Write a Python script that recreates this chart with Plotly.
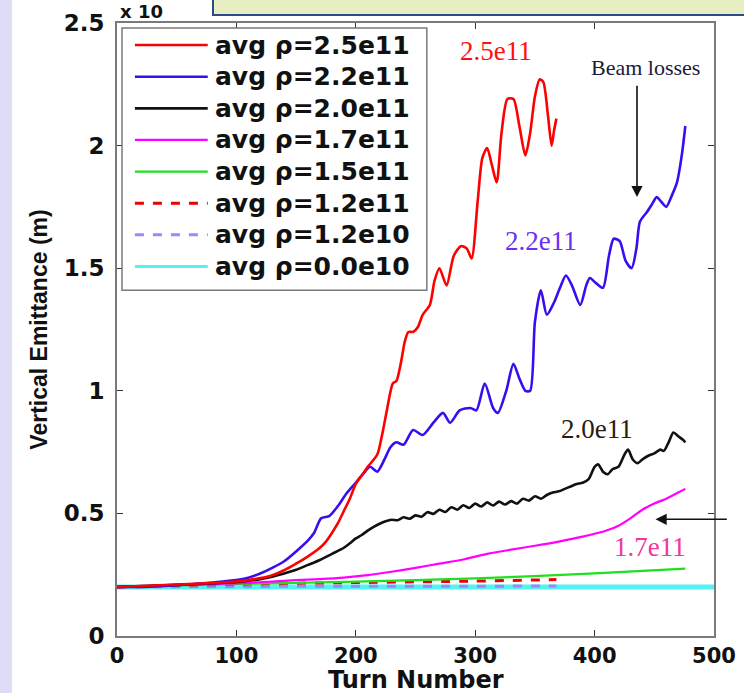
import plotly.graph_objects as go

# ---- data: vertical emittance (m, scaled) versus turn number ----
turns_25 = [0, 20, 40, 60, 80, 100, 110, 120, 130, 140, 150, 160, 170, 175, 180, 185, 190, 195,
            200, 205, 210, 218, 222, 226, 231, 234, 238, 241, 244, 248, 252, 256, 262, 266, 270,
            276, 282, 288, 293, 297, 302, 306, 310, 314, 318, 322, 327, 332, 337, 342, 346, 350,
            354, 357, 361, 364, 366, 368]
emit_25 = [0.200, 0.204, 0.208, 0.212, 0.216, 0.222, 0.228, 0.236, 0.248, 0.268, 0.295, 0.325,
           0.360, 0.385, 0.420, 0.460, 0.510, 0.560, 0.620, 0.655, 0.690, 0.740, 0.820, 0.920,
           1.030, 1.040, 1.120, 1.200, 1.240, 1.240, 1.260, 1.310, 1.350, 1.450, 1.500, 1.430,
           1.550, 1.590, 1.580, 1.540, 1.770, 1.950, 1.990, 1.920, 1.850, 2.050, 2.190, 2.190,
           2.080, 1.960, 2.050, 2.200, 2.270, 2.260, 2.120, 2.000, 2.060, 2.110]

turns_22 = [0, 20, 40, 60, 80, 100, 110, 120, 130, 140, 150, 160, 165, 171, 178, 185, 192, 199,
            206, 212, 218, 224, 229, 234, 240, 248, 256, 265, 273, 279, 287, 296, 301, 308, 315,
            319, 326, 332, 337, 342, 346, 350, 355, 360, 366, 371, 376, 381, 388, 393, 396, 401,
            407, 412, 416, 421, 426, 431, 435, 438, 444, 448, 452, 456, 460, 465, 469, 473, 476]
emit_22 = [0.200, 0.200, 0.204, 0.210, 0.218, 0.228, 0.238, 0.255, 0.278, 0.305, 0.345, 0.390,
           0.420, 0.480, 0.490, 0.530, 0.580, 0.620, 0.660, 0.690, 0.670, 0.720, 0.770, 0.790,
           0.780, 0.840, 0.820, 0.870, 0.910, 0.870, 0.920, 0.930, 0.920, 1.030, 0.930, 0.910,
           1.000, 1.110, 1.050, 1.000, 1.000, 1.280, 1.410, 1.310, 1.360, 1.420, 1.470, 1.430,
           1.350, 1.430, 1.460, 1.440, 1.420, 1.550, 1.620, 1.610, 1.530, 1.500, 1.580, 1.690,
           1.730, 1.760, 1.790, 1.770, 1.750, 1.800, 1.850, 1.960, 2.080]

turns_20 = [0, 20, 40, 60, 80, 100, 110, 120, 130, 140, 150, 160, 170, 180, 190, 195, 200, 205,
            210, 215, 220, 225, 230, 235, 240, 245, 250, 255, 260, 265, 270, 275, 280, 285, 290,
            295, 300, 305, 310, 315, 320, 325, 330, 335, 340, 345, 350, 355, 360, 365, 370, 375,
            380, 385, 390, 395, 400, 403, 407, 411, 415, 420, 425, 428, 432, 436, 440, 445, 450,
            455, 458, 462, 466, 470, 474, 476]
emit_20 = [0.200, 0.203, 0.207, 0.210, 0.215, 0.220, 0.225, 0.232, 0.242, 0.255, 0.270, 0.290,
           0.310, 0.335, 0.360, 0.378, 0.398, 0.412, 0.430, 0.445, 0.458, 0.468, 0.474, 0.472,
           0.484, 0.478, 0.492, 0.486, 0.505, 0.498, 0.515, 0.506, 0.525, 0.515, 0.533, 0.522,
           0.540, 0.528, 0.545, 0.532, 0.548, 0.536, 0.550, 0.540, 0.560, 0.552, 0.570, 0.560,
           0.575, 0.585, 0.590, 0.600, 0.610, 0.620, 0.625, 0.640, 0.690, 0.700, 0.670, 0.660,
           0.680, 0.690, 0.740, 0.760, 0.720, 0.705, 0.720, 0.735, 0.745, 0.760, 0.755, 0.790,
           0.830, 0.815, 0.800, 0.790]

turns_17 = [0, 50, 100, 130, 150, 170, 190, 210, 230, 250, 270, 290, 310, 330, 350, 370, 390,
            410, 420, 430, 440, 450, 460, 470, 476]
emit_17 = [0.200, 0.208, 0.215, 0.222, 0.228, 0.232, 0.238, 0.248, 0.262, 0.278, 0.295, 0.312,
           0.335, 0.352, 0.368, 0.385, 0.405, 0.430, 0.450, 0.480, 0.515, 0.540, 0.560, 0.585,
           0.600]

turns_15 = [0, 100, 200, 300, 400, 476]
emit_15 = [0.200, 0.212, 0.222, 0.235, 0.255, 0.275]

turns_12 = [0, 100, 200, 300, 368]
emit_12 = [0.200, 0.212, 0.218, 0.224, 0.230]

turns_12e10 = [0, 100, 200, 300, 368]
emit_12e10 = [0.200, 0.202, 0.203, 0.203, 0.204]

turns_00 = [0, 500]
emit_00 = [0.200, 0.200]

legend_labels = ["avg \u03c1=2.5e11", "avg \u03c1=2.2e11", "avg \u03c1=2.0e11", "avg \u03c1=1.7e11",
                 "avg \u03c1=1.5e11", "avg \u03c1=1.2e11", "avg \u03c1=1.2e10", "avg \u03c1=0.0e10"]

x_ticks = [0, 100, 200, 300, 400, 500]
y_ticks = [0, 0.5, 1, 1.5, 2, 2.5]

# (x, y, colour, width, dash) per series
series = [
    (turns_25, emit_25, "#ff0000", 2.6, "solid"),
    (turns_22, emit_22, "#3a0df0", 2.6, "solid"),
    (turns_20, emit_20, "#111111", 2.6, "solid"),
    (turns_17, emit_17, "#ff00ff", 2.2, "solid"),
    (turns_15, emit_15, "#1ee01e", 2.2, "solid"),
    (turns_12, emit_12, "#ee0000", 3.0, "dash"),
    (turns_12e10, emit_12e10, "#9a88ff", 3.0, "dash"),
    (turns_00, emit_00, "#55f2f2", 5.0, "solid"),
]

fig = go.Figure()

# draw the flat reference curves first so the growing ones stay on top
for xs, ys, col, w, dash in reversed(series):
    fig.add_trace(go.Scatter(x=xs, y=ys, mode="lines",
                             line=dict(color=col, width=w, dash=dash,
                                       shape="spline", smoothing=0.7),
                             showlegend=False, hoverinfo="skip"))

X_TICK_FONT = dict(family="DejaVu Sans", size=21, color="#111111", weight="bold")
Y_TICK_FONT = dict(family="DejaVu Sans", size=23, color="#111111", weight="bold")

fig.update_layout(
    width=744, height=693,
    margin=dict(l=117, r=30, t=23, b=57),
    paper_bgcolor="white", plot_bgcolor="white",
    xaxis=dict(range=[0, 500], tickvals=x_ticks, ticks="inside", ticklen=6,
               tickcolor="#333333", showline=True, mirror="ticks", linecolor="#7a7a7a",
               linewidth=2, showgrid=False, zeroline=False, tickfont=X_TICK_FONT,
               automargin=False),
    yaxis=dict(range=[0, 2.5], tickvals=y_ticks, ticks="inside", ticklen=6,
               tickcolor="#333333", showline=True, mirror="ticks", linecolor="#7a7a7a",
               linewidth=2, showgrid=False, zeroline=False, tickfont=Y_TICK_FONT,
               ticklabelstandoff=6, automargin=False,
               title=dict(text="Vertical Emittance (m)", standoff=10,
                          font=dict(family="Liberation Sans", size=23, color="#111111",
                                    weight="bold"))),
)

shapes = []
annotations = []

# x-axis title placed just under the tick labels
annotations.append(dict(text="Turn Number", xref="paper", yref="paper", x=0.5, y=-0.0710,
                        xanchor="center", yanchor="middle", showarrow=False,
                        font=dict(family="DejaVu Sans", size=24, color="#111111",
                                  weight="bold")))

# slide strip on the left and caption box along the top edge
shapes.append(dict(type="rect", xref="paper", yref="paper", x0=-0.25, x1=-0.176,
                   y0=-0.2, y1=1.2, fillcolor="#dfdcf6", line=dict(width=0), layer="below"))
shapes.append(dict(type="rect", xref="paper", yref="paper", x0=0.1608, x1=1.08,
                   y0=1.0130, y1=1.06, fillcolor="#e6eec2",
                   line=dict(color="#2d4a8a", width=2)))

annotations.append(dict(text="x 10", xref="paper", yref="paper", x=0.002, y=1.018,
                        xanchor="left", yanchor="middle", showarrow=False,
                        font=dict(family="DejaVu Sans", size=18, color="#111111",
                                  weight="bold")))

# legend box
shapes.append(dict(type="rect", xref="paper", yref="paper", x0=0.0084, x1=0.519,
                   y0=0.564, y1=0.992, fillcolor="white",
                   line=dict(color="#7a7a7a", width=1.5)))
entry_top = 0.964
entry_step = 0.0516
for i, (label, (_, _, col, w, dash)) in enumerate(zip(legend_labels, series)):
    yy = entry_top - i * entry_step
    shapes.append(dict(type="line", xref="paper", yref="paper", x0=0.030, x1=0.152,
                       y0=yy, y1=yy, line=dict(color=col, width=min(w, 3.2), dash=dash)))
    annotations.append(dict(text=label, xref="paper", yref="paper", x=0.160, y=yy,
                            xanchor="left", yanchor="middle", showarrow=False,
                            font=dict(family="DejaVu Sans", size=25, color="#111111",
                                      weight="bold")))

# curve labels
SERIF = "Liberation Serif"
annotations += [
    dict(text="2.5e11", x=317, y=2.386, showarrow=False,
         font=dict(family=SERIF, size=27, color="#ff1010")),
    dict(text="2.2e11", x=355, y=1.61, showarrow=False,
         font=dict(family=SERIF, size=27, color="#6a2ff2")),
    dict(text="2.0e11", x=402, y=0.846, showarrow=False,
         font=dict(family=SERIF, size=27, color="#2a1c12")),
    dict(text="1.7e11", x=446, y=0.362, showarrow=False,
         font=dict(family=SERIF, size=27, color="#f2369a")),
    dict(text="Beam losses", x=443, y=2.32, showarrow=False,
         font=dict(family=SERIF, size=22, color="#1a1a3a")),
    # arrows
    dict(text="", x=435.5, y=1.79, ax=435.5, ay=2.25, axref="x", ayref="y",
         showarrow=True, arrowhead=2, arrowsize=1.4, arrowwidth=1.6, arrowcolor="#111111"),
    dict(text="", x=451, y=0.476, ax=512, ay=0.476, axref="x", ayref="y",
         showarrow=True, arrowhead=2, arrowsize=1.4, arrowwidth=1.6, arrowcolor="#111111"),
]

fig.update_layout(shapes=shapes, annotations=annotations)

fig.write_html("out.html")
